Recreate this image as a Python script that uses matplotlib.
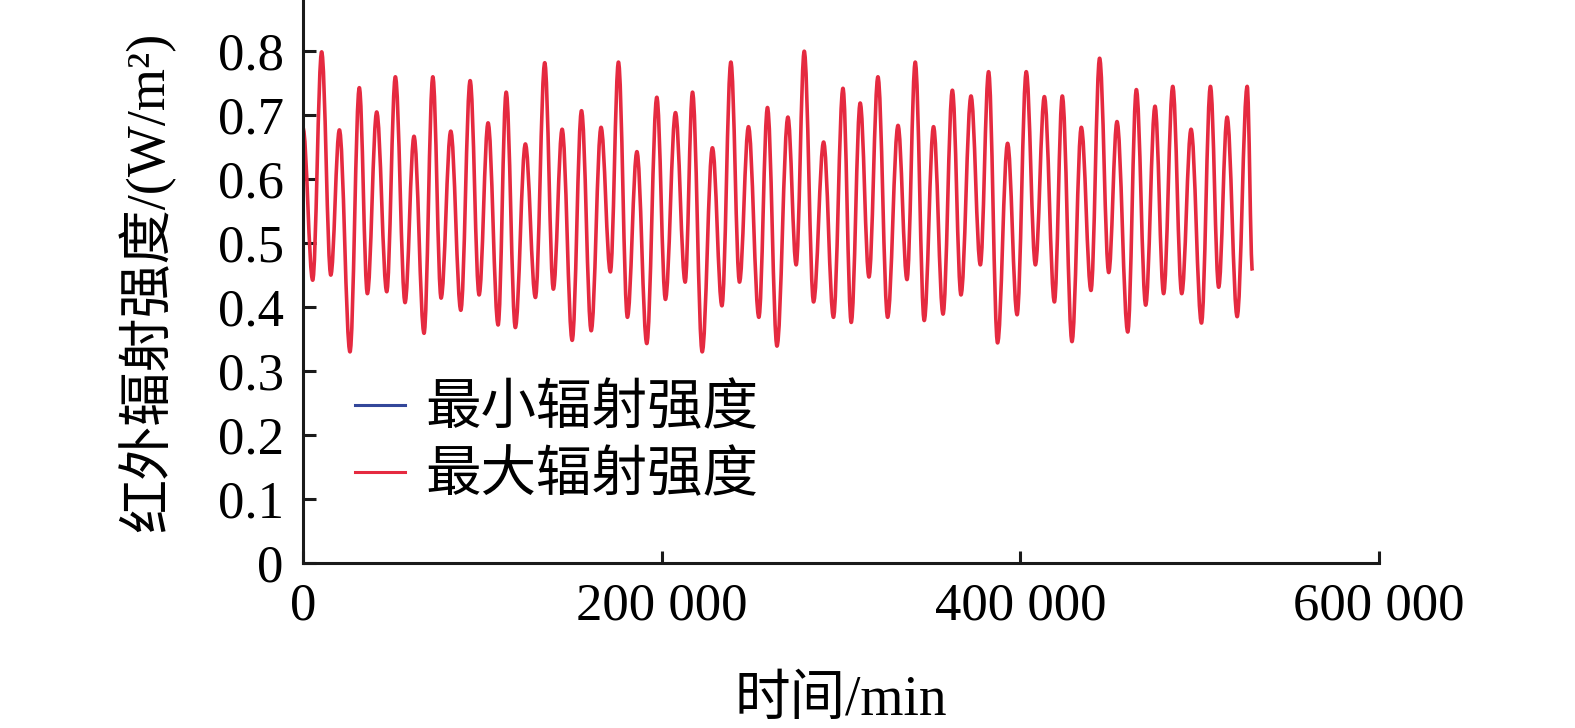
import matplotlib
matplotlib.use('Agg')
import matplotlib.pyplot as plt
from matplotlib.lines import Line2D
from matplotlib.path import Path
from matplotlib.patches import PathPatch

plt.rcParams['font.family'] = ['Liberation Serif', 'Noto Sans CJK SC', 'DejaVu Sans']

# turning points of the maximum intensity curve (time in min, value in W/m2)
t_max = [0, 5400, 10400, 15500, 20300, 26200, 31400, 35900, 41100, 46700,
         51500, 56900, 61900, 67500, 72400, 77000, 82400, 88000, 93200, 98200,
         103200, 108800, 113300, 118400, 124000, 129600, 134800, 139600, 144500, 150100,
         155300, 160700, 166200, 171400, 175900, 180900, 186200, 191700, 197300, 202100,
         207700, 213100, 217200, 222600, 228300, 233600, 238600, 243400, 248400, 254200,
         259000, 264300, 270400, 275000, 279500, 284700, 290300, 295800, 301100, 305700,
         310700, 315600, 320600, 326000, 331800, 336800, 341400, 346400, 351600, 356900,
         362100, 366900, 372500, 377700, 382300, 387300, 392900, 398200, 403300, 408400,
         413400, 419000, 423400, 428800, 434000, 439400, 444200, 449300, 453900, 459900,
         464700, 469900, 475100, 479900, 485000, 490000, 495200, 501000, 506000, 510600,
         515300, 520900, 526500, 529400]
v_max = [0.68, 0.442, 0.799, 0.450, 0.677, 0.330, 0.743, 0.421, 0.705, 0.424,
         0.760, 0.407, 0.667, 0.359, 0.760, 0.414, 0.675, 0.395, 0.754, 0.419,
         0.688, 0.372, 0.736, 0.368, 0.655, 0.415, 0.782, 0.428, 0.678, 0.348,
         0.707, 0.363, 0.681, 0.455, 0.783, 0.384, 0.643, 0.343, 0.728, 0.412,
         0.704, 0.439, 0.736, 0.330, 0.649, 0.402, 0.783, 0.439, 0.682, 0.384,
         0.712, 0.339, 0.697, 0.466, 0.800, 0.408, 0.658, 0.384, 0.742, 0.376,
         0.719, 0.447, 0.760, 0.384, 0.684, 0.443, 0.783, 0.379, 0.682, 0.389,
         0.739, 0.419, 0.730, 0.466, 0.768, 0.344, 0.656, 0.388, 0.768, 0.466,
         0.729, 0.408, 0.730, 0.346, 0.681, 0.426, 0.789, 0.454, 0.690, 0.361,
         0.740, 0.403, 0.714, 0.421, 0.745, 0.421, 0.678, 0.375, 0.745, 0.431,
         0.697, 0.385, 0.745, 0.457]

# minimum intensity stays at zero
t_min = [0, 529400]
v_min = [0.0, 0.0]

x_ticks = [0, 200000, 400000, 600000]
x_labels = ['0', '200 000', '400 000', '600 000']
y_ticks = [0, 0.1, 0.2, 0.3, 0.4, 0.5, 0.6, 0.7, 0.8]
y_labels = ['0', '0.1', '0.2', '0.3', '0.4', '0.5', '0.6', '0.7', '0.8']

red = '#e52a40'
blue = '#33479a'


def smooth_path(xs, ys, k=0.3634):
    # cubic segments with flat tangents at each turning point
    verts = [(xs[0], ys[0])]
    codes = [Path.MOVETO]
    for i in range(1, len(xs)):
        dx = xs[i] - xs[i - 1]
        verts += [(xs[i - 1] + k * dx, ys[i - 1]), (xs[i] - k * dx, ys[i]), (xs[i], ys[i])]
        codes += [Path.CURVE4] * 3
    return Path(verts, codes)


fig = plt.figure(figsize=(15.75, 7.28), dpi=100)
ax = fig.add_axes([303/1575, 165/728, 1076/1575, 563/728])

ax.plot(t_min, v_min, color=blue, lw=2.0, clip_on=False, zorder=1)
ax.add_patch(PathPatch(smooth_path(t_max, v_max), fill=False, edgecolor=red,
                       lw=2.6, joinstyle='round', zorder=2))

ax.set_xlim(0, 600000)
ax.set_ylim(0, 0.88)
ax.set_xticks(x_ticks)
ax.set_xticklabels(x_labels)
ax.set_yticks(y_ticks)
ax.set_yticklabels(y_labels)

for s in ['top', 'right']:
    ax.spines[s].set_visible(False)
for s in ['left', 'bottom']:
    ax.spines[s].set_linewidth(2.2)
    ax.spines[s].set_color('#1a1a1a')
    ax.spines[s].set_zorder(3)

ax.tick_params(axis='both', direction='in', length=9, width=2.2, color='#1a1a1a',
               labelsize=38)
ax.tick_params(axis='x', pad=14)
ax.tick_params(axis='y', pad=14)

ax.set_xlabel('时间/min', fontsize=40, labelpad=32)
ax.set_ylabel('红外辐射强度/(W/m²)', fontsize=39, labelpad=30)

handles = [Line2D([0], [0], color=blue, lw=2.2), Line2D([0], [0], color=red, lw=2.2)]
ax.legend(handles, ['最小辐射强度', '最大辐射强度'], loc='upper left',
          bbox_to_anchor=(0.048, 0.318), frameon=False, fontsize=40,
          handlelength=0.9, handletextpad=0.38, labelspacing=0.28, borderpad=0,
          borderaxespad=0)

fig.savefig('out.png', dpi=100)
